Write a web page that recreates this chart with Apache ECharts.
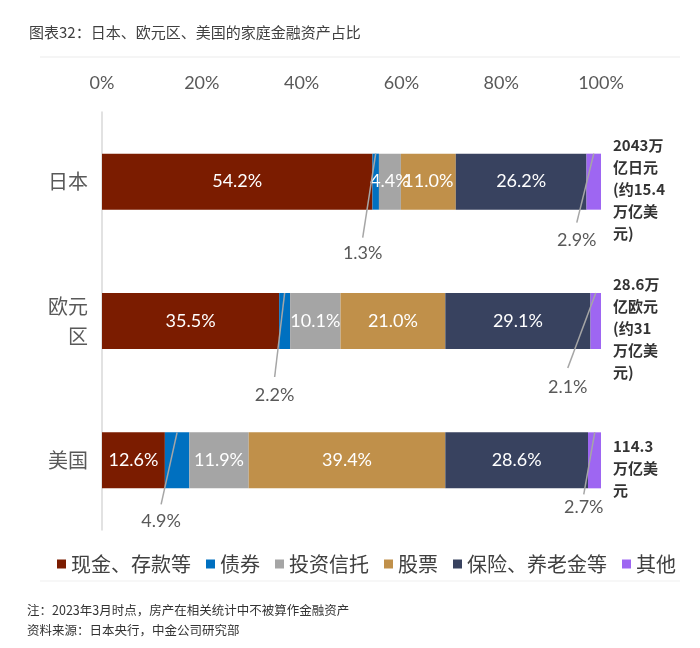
<!DOCTYPE html>
<html>
<head>
<meta charset="utf-8">
<script src="https://cdn.jsdelivr.net/npm/echarts@6/dist/echarts.min.js"></script>
<style>html,body{margin:0;padding:0;background:#fff}#main{width:700px;height:648px}</style>
</head>
<body>
<div id="main"></div>
<script>
const categories = ['日本', '欧元\n区', '美国'];
const seriesNames = ['现金、存款等', '债券', '投资信托', '股票', '保险、养老金等', '其他'];
const cashDeposits = [54.2, 35.5, 12.6];
const bonds = [1.3, 2.2, 4.9];
const investTrusts = [4.4, 10.1, 11.9];
const stocks = [11.0, 21.0, 39.4];
const insurancePension = [26.2, 29.1, 28.6];
const others = [2.9, 2.1, 2.7];
const totalNotes = ['2043万\n亿日元\n(约15.4\n万亿美\n元)', '28.6万\n亿欧元\n(约31\n万亿美\n元)', '114.3\n万亿美\n元'];
const titleText = '图表32：日本、欧元区、美国的家庭金融资产占比';
const noteText = '注：2023年3月时点，房产在相关统计中不被算作金融资产';
const sourceText = '资料来源：日本央行，中金公司研究部';

const seriesValues = [cashDeposits, bonds, investTrusts, stocks, insurancePension, others];
const colors = ['#7B1C00', '#0070C0', '#A5A5A5', '#C0904A', '#38425F', '#9E66F2'];

// callout style: which segment (series s, category c) gets an outside label, and label offsets in px
const calloutStyle = [
  {s: 1, c: 0, dx: -13, ly: 28, ty: 44},
  {s: 5, c: 0, dx: -17, ly: 13, ty: 31},
  {s: 1, c: 1, dx: -10, ly: 28, ty: 46},
  {s: 5, c: 1, dx: -28, ly: 19, ty: 38},
  {s: 1, c: 2, dx: -16, ly: 16, ty: 33},
  {s: 5, c: 2, dx: -11, ly: 6, ty: 19}
];
const BAR_W = 56;
const numFont = 'Lato, "Noto Sans CJK SC", sans-serif';
const cjkFont = '"Noto Sans CJK SC", sans-serif';

function isCallout(s, c) { return calloutStyle.some(o => o.s === s && o.c === c); }

const barSeries = seriesNames.map((name, s) => ({
  name: name,
  type: 'bar',
  stack: 'total',
  barWidth: BAR_W,
  itemStyle: {color: colors[s]},
  data: seriesValues[s].map((v, c) => ({
    value: v,
    label: {show: !isCallout(s, c)}
  })),
  label: {
    show: true,
    position: 'inside',
    color: '#fff',
    fontSize: 18,
    fontFamily: numFont,
    formatter: p => p.value.toFixed(1) + '%'
  }
}));

const calloutData = calloutStyle.map(o => {
  let start = 0;
  for (let k = 0; k < o.s; k++) start += seriesValues[k][o.c];
  const v = seriesValues[o.s][o.c];
  return [start + v / 2, o.c, v];
});

const calloutSeries = {
  type: 'custom',
  clip: false,
  z: 10,
  silent: true,
  encode: {x: 0, y: 1},
  data: calloutData,
  renderItem: function (params, api) {
    const o = calloutStyle[params.dataIndex];
    const p = api.coord([api.value(0), api.value(1)]);
    const top = p[1] - BAR_W / 2;
    const bottom = p[1] + BAR_W / 2;
    return {
      type: 'group',
      children: [
        {type: 'line', shape: {x1: p[0], y1: top, x2: p[0] + o.dx, y2: bottom + o.ly},
         style: {stroke: '#A6A6A6', lineWidth: 1.5}},
        {type: 'text', style: {text: api.value(2).toFixed(1) + '%', x: p[0] + o.dx, y: bottom + o.ty,
          align: 'center', verticalAlign: 'middle', fontSize: 18, fontFamily: numFont, fill: '#595959'}}
      ]
    };
  }
};

const chart = echarts.init(document.getElementById('main'), null, {renderer: 'canvas'});
chart.setOption({
  animation: false,
  backgroundColor: '#fff',
  title: [
    {text: titleText, left: 24, top: 20, textStyle: {fontSize: 15, fontWeight: 'normal', color: '#404040', fontFamily: cjkFont}},
    {text: noteText, left: 22, top: 599, textStyle: {fontSize: 12.5, fontWeight: 'normal', color: '#333', fontFamily: cjkFont}},
    {text: sourceText, left: 22, top: 619, textStyle: {fontSize: 12.5, fontWeight: 'normal', color: '#333', fontFamily: cjkFont}}
  ],
  graphic: [
    {type: 'rect', shape: {x: 40, y: 56, width: 640, height: 2}, style: {fill: 'rgba(0,0,0,0.04)', shadowBlur: 6, shadowColor: 'rgba(0,0,0,0.14)', shadowOffsetY: 1}, z: -1},
    {type: 'rect', shape: {x: 40, y: 580, width: 640, height: 2}, style: {fill: 'rgba(0,0,0,0.03)', shadowBlur: 6, shadowColor: 'rgba(0,0,0,0.12)', shadowOffsetY: 1}, z: -1}
  ],
  legend: {
    data: seriesNames,
    left: 52,
    top: 549,
    itemWidth: 9,
    itemHeight: 9,
    itemGap: 15,
    icon: 'rect',
    textStyle: {fontSize: 20, color: '#404040', fontFamily: cjkFont}
  },
  grid: {left: 102, right: 99, top: 112, bottom: 118, containLabel: false},
  xAxis: {
    type: 'value',
    position: 'top',
    min: 0,
    max: 100,
    interval: 20,
    axisLine: {show: false},
    axisTick: {show: false},
    splitLine: {show: false},
    axisLabel: {formatter: '{value}%', fontSize: 18, color: '#595959', fontFamily: numFont, margin: 20}
  },
  yAxis: [
    {
      type: 'category',
      inverse: true,
      data: categories,
      axisLine: {show: true, lineStyle: {color: '#D9D9D9', width: 1.5}},
      axisTick: {show: false},
      axisLabel: {fontSize: 20, color: '#595959', fontFamily: cjkFont, lineHeight: 30, margin: 14}
    },
    {
      type: 'category',
      inverse: true,
      position: 'right',
      data: categories,
      axisLine: {show: false},
      axisTick: {show: false},
      axisLabel: {
        formatter: (v, i) => '{s| }\n' + totalNotes[i].split('\n').map(l => '{t|' + l + '}').join('\n'),
        align: 'left',
        margin: 12,
        rich: {
          s: {fontSize: 1, lineHeight: 15},
          t: {fontSize: 15, fontWeight: 'bold', color: '#333', fontFamily: cjkFont, lineHeight: 22}
        }
      }
    }
  ],
  series: barSeries.concat([calloutSeries])
});
</script>
</body>
</html>
